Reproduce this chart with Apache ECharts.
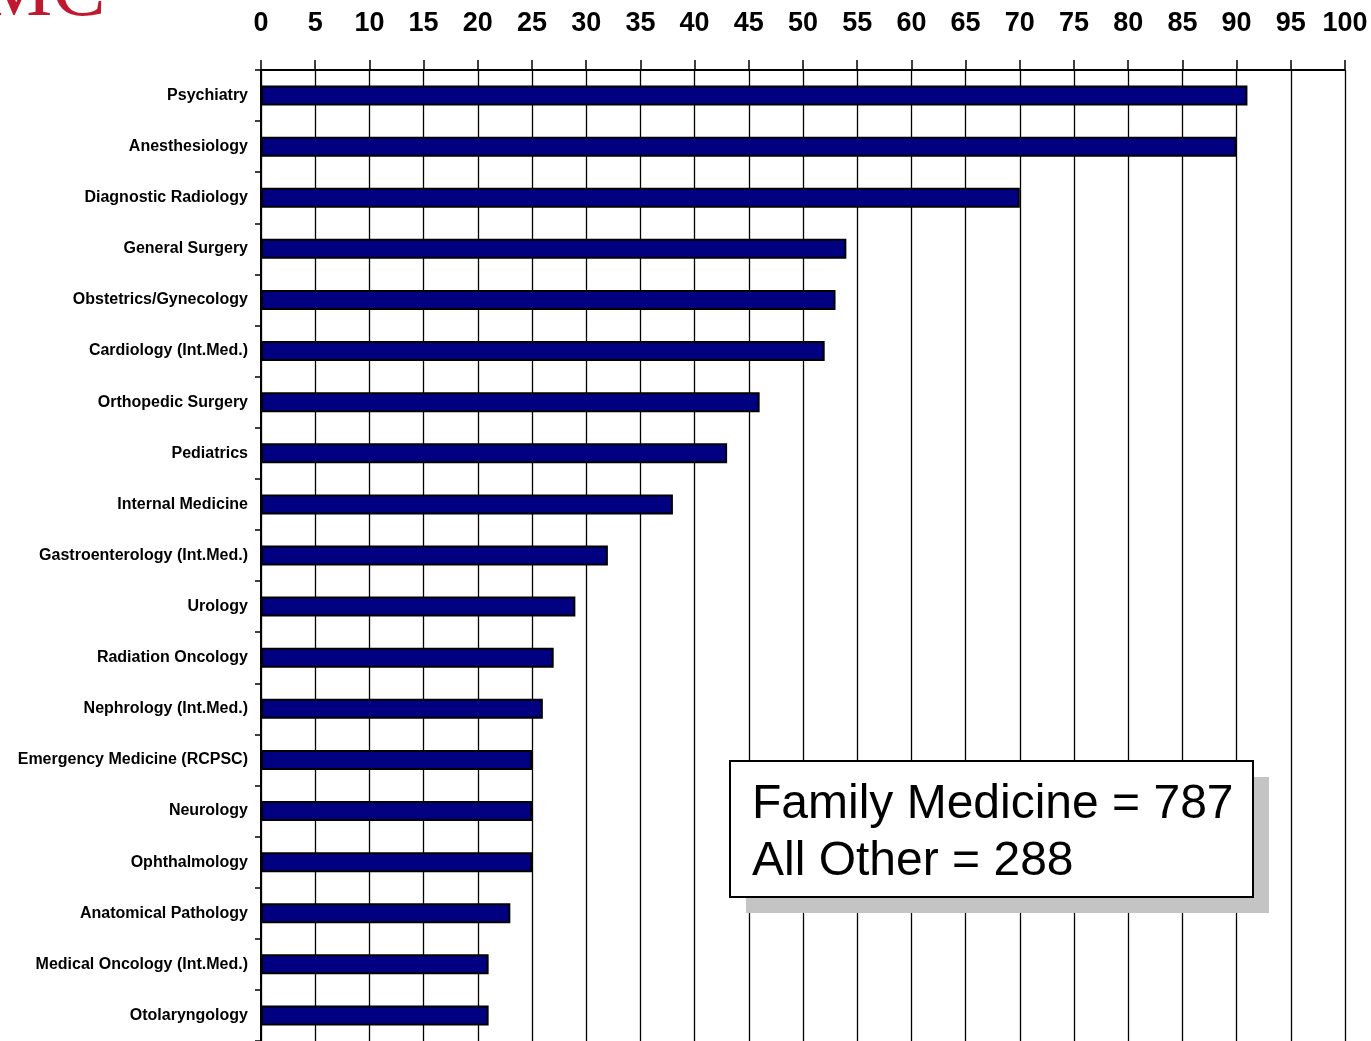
<!DOCTYPE html>
<html>
<head>
<meta charset="utf-8">
<script src="https://cdn.jsdelivr.net/npm/echarts@6/dist/echarts.min.js"></script>
<style>
html,body{margin:0;padding:0;background:#fff;}
#chart{width:1371px;height:1041px;}
</style>
</head>
<body>
<div id="chart"></div>
<script>
const categories = [
  "Psychiatry","Anesthesiology","Diagnostic Radiology","General Surgery",
  "Obstetrics/Gynecology","Cardiology (Int.Med.)","Orthopedic Surgery","Pediatrics",
  "Internal Medicine","Gastroenterology (Int.Med.)","Urology","Radiation Oncology",
  "Nephrology (Int.Med.)","Emergency Medicine (RCPSC)","Neurology","Ophthalmology",
  "Anatomical Pathology","Medical Oncology (Int.Med.)","Otolaryngology"
];
const values = [91,90,70,54,53,52,46,43,38,32,29,27,26,25,25,25,23,21,21];
const boxLines = ["Family Medicine = 787","All Other = 288"];
const logoText = "MC";

const chart = echarts.init(document.getElementById('chart'));
const sans = '"Liberation Sans", Arial, sans-serif';
chart.setOption({
  animation:false,
  backgroundColor:'#fff',
  grid:{left:261, top:70, width:1084, height:974, containLabel:false},
  xAxis:{
    type:'value', position:'top', min:0, max:100, interval:5,
    axisLine:{show:true, lineStyle:{color:'#000', width:2}},
    axisTick:{show:true, inside:false, length:10, lineStyle:{color:'#000', width:1.5}},
    axisLabel:{color:'#000', fontFamily:sans, fontWeight:'bold', fontSize:27, margin:33},
    splitLine:{show:true, lineStyle:{color:'#000', width:1.3}}
  },
  yAxis:{
    type:'category', data:categories, inverse:true,
    axisLine:{show:true, lineStyle:{color:'#000', width:2}},
    axisTick:{show:true, length:6, lineStyle:{color:'#000', width:1.5}},
    axisLabel:{color:'#000', fontFamily:sans, fontWeight:'bold', fontSize:16, margin:13, padding:[2,0,0,0]},
    splitLine:{show:false}
  },
  series:[{
    type:'bar', data:values, barWidth:20,
    itemStyle:{color:'#000080', borderColor:'#000', borderWidth:2},
    z:3
  }],
  graphic:[
    {type:'rect', shape:{x:746, y:777, width:523, height:136}, style:{fill:'#c4c4c4'}, z:10},
    {type:'rect', shape:{x:730, y:761, width:523, height:136}, style:{fill:'#fff', stroke:'#000', lineWidth:2}, z:11},
    {type:'text', left:752, top:781, style:{text:boxLines[0], font:'48px "Liberation Sans", Arial, sans-serif', fill:'#000'}, z:12},
    {type:'text', left:752, top:838, style:{text:boxLines[1], font:'48px "Liberation Sans", Arial, sans-serif', fill:'#000'}, z:12},
    {type:'text', left:-19, top:-46, style:{text:logoText, font:'80px "Liberation Serif", "Times New Roman", serif', fill:'#c0182e'}, z:12}
  ]
});
</script>
</body>
</html>
